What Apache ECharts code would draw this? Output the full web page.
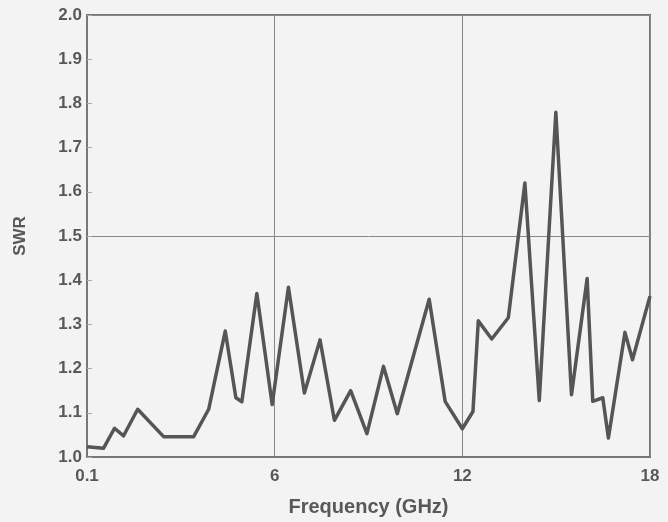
<!DOCTYPE html>
<html>
<head>
<meta charset="utf-8">
<script src="https://cdn.jsdelivr.net/npm/echarts@6/dist/echarts.min.js"></script>
<style>
  html, body { margin: 0; padding: 0; background: #f3f3f3; }
  #chart { width: 668px; height: 522px; }
</style>
</head>
<body>
<div id="chart"></div>
<script>
// frequency (GHz) and SWR
const freq = [0, 0.53, 0.88, 1.17, 1.62, 2.45, 3.41, 3.89, 4.42, 4.76, 4.95, 5.43, 5.92, 6.44,
  6.95, 7.45, 7.91, 8.43, 8.95, 9.48, 9.92, 10.94, 11.45, 12.0, 12.34, 12.51, 12.94, 13.47,
  14.0, 14.46, 14.99, 15.49, 15.99, 16.17, 16.49, 16.67, 17.2, 17.44, 18.0]
const swr = [1.023, 1.02, 1.065, 1.048, 1.108, 1.046, 1.046, 1.108, 1.285, 1.134, 1.125, 1.37, 1.119, 1.384,
  1.145, 1.265, 1.083, 1.15, 1.053, 1.205, 1.098, 1.357, 1.126, 1.064, 1.103, 1.308, 1.267, 1.315,
  1.62, 1.128, 1.78, 1.141, 1.404, 1.126, 1.134, 1.043, 1.282, 1.22, 1.364]
const xTickLabels = ['0.1', '6', '12', '18']

const myChart = echarts.init(document.getElementById('chart'))
const font = (size) => ({
  fontFamily: 'Liberation Sans',
  fontWeight: 'bold',
  fontSize: size,
  color: '#585858'
})
myChart.setOption({
  backgroundColor: '#f3f3f3',
  animation: false,
  grid: {
    left: 87,
    right: 18,
    top: 15,
    bottom: 64,
    show: true,
    borderColor: '#777',
    borderWidth: 2
  },
  xAxis: {
    type: 'value',
    min: 0,
    max: 18,
    interval: 6,
    name: 'Frequency (GHz)',
    nameLocation: 'middle',
    nameGap: 40,
    nameTextStyle: font(20),
    axisLine: {lineStyle: {color: '#777', width: 2}},
    axisTick: {show: false},
    axisLabel: Object.assign({
      margin: 11,
      formatter: (v) => xTickLabels[Math.round(v / 6)]
    }, font(17)),
    splitLine: {show: true, lineStyle: {color: '#888', width: 1}}
  },
  yAxis: [
    {
      type: 'value',
      min: 1.0,
      max: 2.0,
      interval: 0.1,
      name: 'SWR',
      nameLocation: 'middle',
      nameGap: 58,
      nameTextStyle: font(17),
      axisLine: {lineStyle: {color: '#777', width: 2}},
      axisTick: {show: true, inside: true, length: 5, lineStyle: {color: '#aaa'}},
      axisLabel: Object.assign({
        margin: 5,
        formatter: (v) => v.toFixed(1)
      }, font(17)),
      splitLine: {show: false}
    },
    {
      type: 'value',
      min: 1.0,
      max: 2.0,
      interval: 0.5,
      position: 'left',
      axisLine: {show: false},
      axisTick: {show: false},
      axisLabel: {show: false},
      splitLine: {show: true, lineStyle: {color: '#888', width: 1}}
    }
  ],
  series: [
    {
      type: 'line',
      data: freq.map((f, i) => [f, swr[i]]),
      showSymbol: false,
      lineStyle: {color: '#555', width: 3.5, join: 'round'}
    }
  ]
})
</script>
</body>
</html>
